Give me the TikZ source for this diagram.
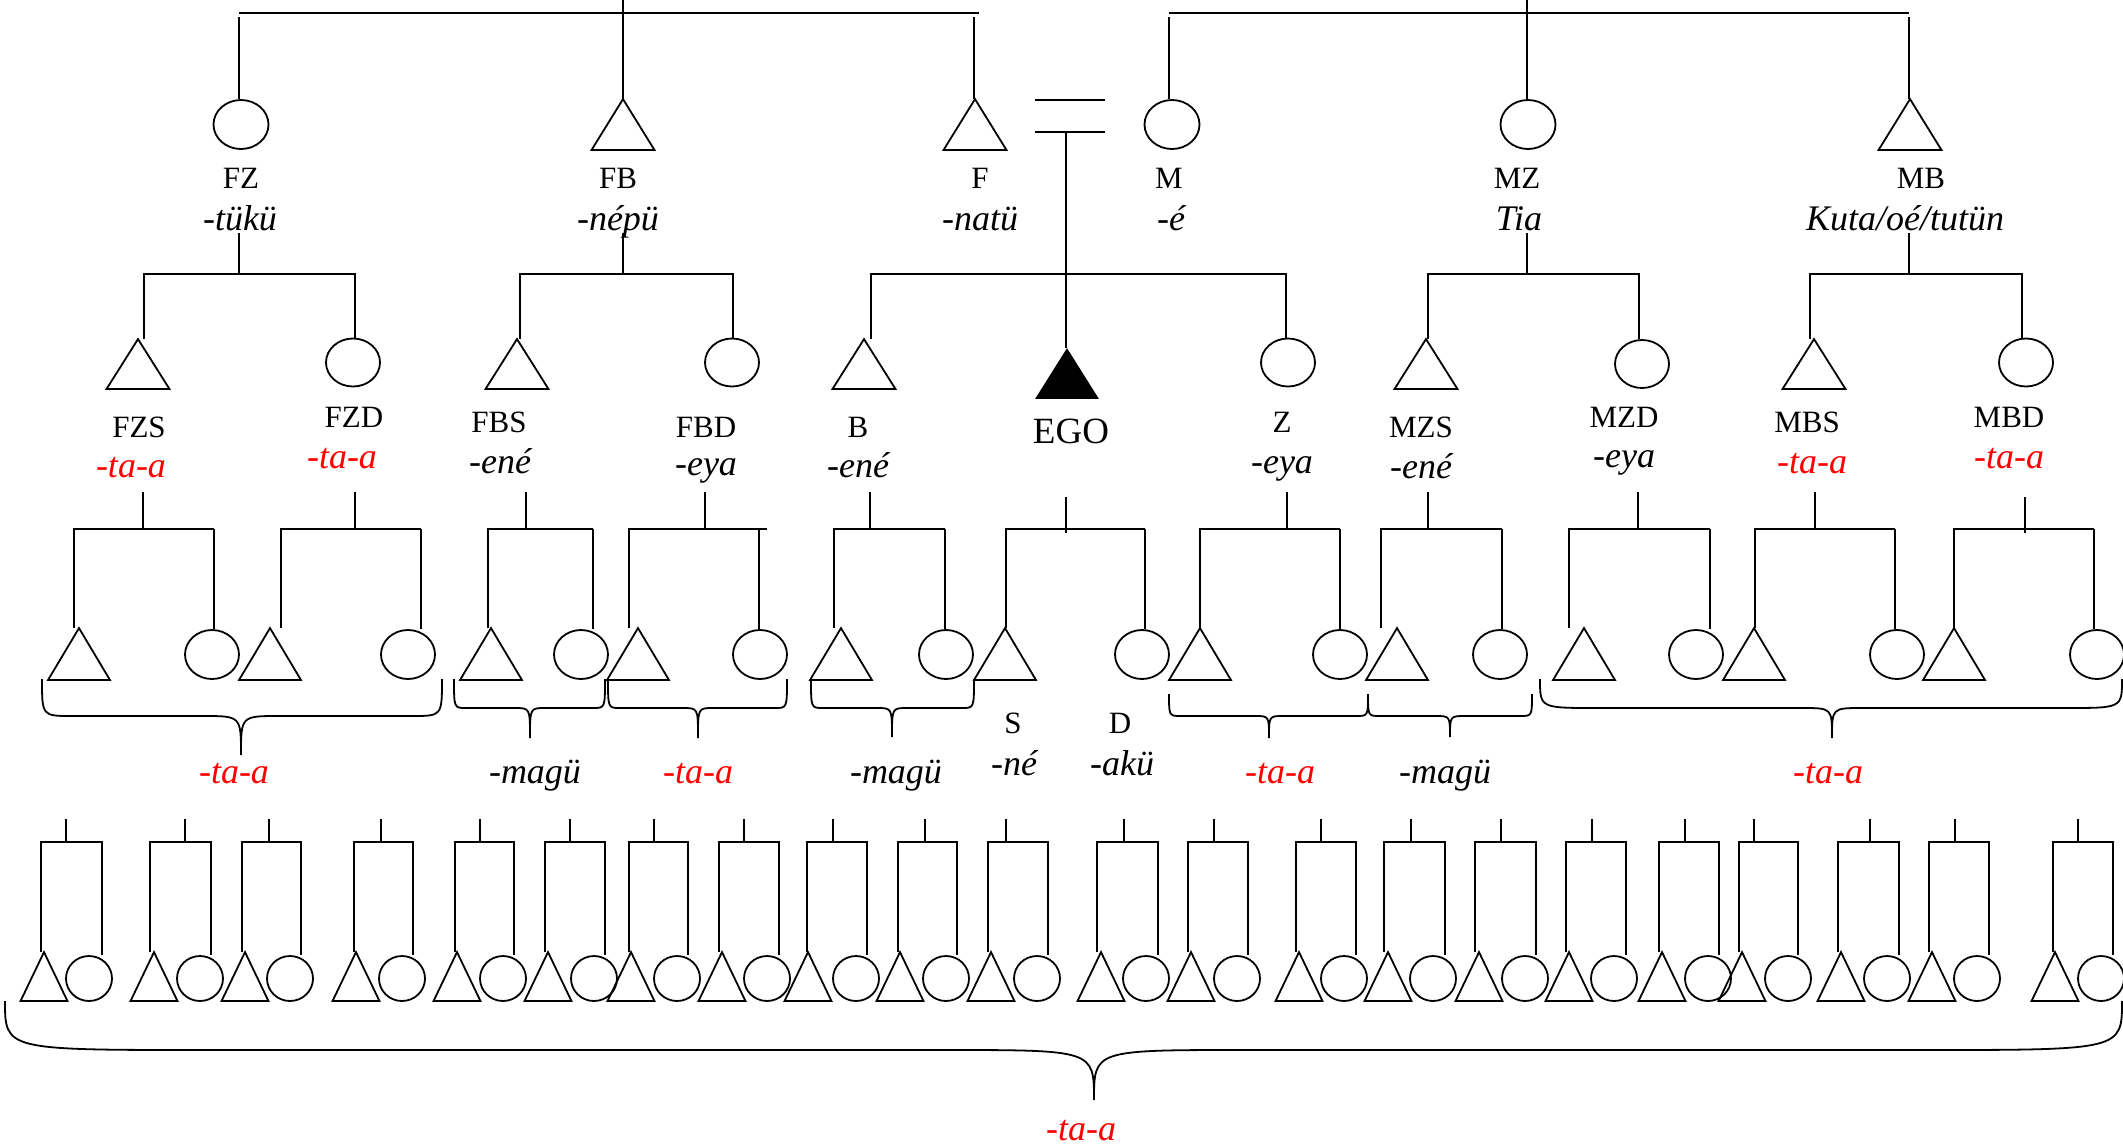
\documentclass[tikz,border=0pt]{standalone}
\usepackage{fontspec}
\setmainfont{Liberation Serif}
\usetikzlibrary{shapes.geometric}
\definecolor{kred}{RGB}{255,0,0}
\tikzset{
  fc1/.style={ellipse,draw,inner sep=0pt,minimum width=55pt,minimum height=49pt},
  mt1/.style={rectangle,inner sep=0pt,minimum width=61pt,minimum height=49pt},
  fc2/.style={fc1,minimum width=54pt,minimum height=48pt},
  mt2/.style={mt1,minimum height=48pt},
  fc3/.style={fc1,minimum width=54pt,minimum height=49pt},
  mt3/.style={mt1,minimum width=60pt,minimum height=50pt},
  fc4/.style={fc1,minimum width=46pt,minimum height=45pt},
  mt4/.style={mt1,minimum width=45pt,minimum height=47pt},
  kin/.style={anchor=base,inner sep=0pt,font=\fontsize{31}{31}\selectfont},
  term/.style={anchor=base,inner sep=0pt,font=\fontsize{36}{36}\selectfont\itshape},
  rterm/.style={term,text=kred},
}
\newcommand\kintri[1]{\draw (#1.south west) -- (#1.north) -- (#1.south east) -- cycle;}
\newcommand\kinbrace[8]{\draw (#1,#3) .. controls (#1,#4) .. ({#1+#7},#4) -- ({#5-#8},#4) .. controls (#5,#4) .. (#5,#6) .. controls (#5,#4) .. ({#5+#8},#4) -- ({#2-#7},#4) .. controls (#2,#4) .. (#2,#3);}
\begin{document}
\begin{tikzpicture}[x=1pt,y=-1pt,line width=1.8pt]
\useasboundingbox (0,0) rectangle (2123,1144);

% ---------- generation 1 ----------
\node[fc1] (fz) at (241,124.5) {};
\node[mt1] (fb) at (623,124.5) {};
\node[mt1] (f)  at (975,124.5) {};
\node[fc1] (m)  at (1172,124.5) {};
\node[fc1] (mz) at (1528,124.5) {};
\node[mt1] (mb) at (1910,124.5) {};
\kintri{fb}\kintri{f}\kintri{mb}

\coordinate (gpL) at (623,0);
\coordinate (gpR) at (1527,0);
\coordinate (lbA) at (239,13); \coordinate (lbB) at (979,13);
\coordinate (rbA) at (1169,13); \coordinate (rbB) at (1909,13);
\draw (lbA) -- (lbB);
\draw (rbA) -- (rbB);
\draw (gpL) -- (gpL |- fb.north);
\draw (gpR) -- (gpR |- mz.north);
\coordinate (fzleg) at (239,17); \draw (fzleg) -- (fzleg |- fz.north);
\coordinate (fleg) at (974,17);  \draw (fleg) -- (fleg |- f.north);
\coordinate (mleg) at (1169,17); \draw (mleg) -- (mleg |- m.north);
\coordinate (mbleg) at (1909,17); \draw (mbleg) -- (mbleg |- mb.north);

\node[kin] (fzL) at (241,188) {FZ};  \node[term] (fzT) at (240,230) {-tükü};
\node[kin] (fbL) at (618,188) {FB};  \node[term] (fbT) at (618,230) {-népü};
\node[kin] (fL)  at (980,188) {F};   \node[term] (fT)  at (980,230) {-natü};
\node[kin] (mL)  at (1169,188) {M};  \node[term] (mT)  at (1171,230) {-é};
\node[kin] (mzL) at (1517,188) {MZ}; \node[term] (mzT) at (1519,230) {Tia};
\node[kin] (mbL) at (1921,188) {MB}; \node[term] (mbT) at (1905,230) {Kuta/oé/tutün};

% marriage
\coordinate (ma1) at (1035,100); \coordinate (mb1) at (1105,100);
\coordinate (ma2) at (1035,132); \coordinate (mb2) at (1105,132);
\draw (ma1) -- (mb1);
\draw (ma2) -- (mb2);

% ---------- generation 2 ----------
\node[mt2] (fzs) at (138,364) {};
\node[fc2] (fzd) at (353,362.5) {};
\node[mt2] (fbs) at (517,364) {};
\node[fc2] (fbd) at (732,362.5) {};
\node[mt2] (b)   at (864,364) {};
\node[mt1,minimum width=62pt] (ego) at (1067,373.5) {};
\node[fc2] (z)   at (1288,362.5) {};
\node[mt2] (mzs) at (1426,364) {};
\node[fc2] (mzd) at (1642,364) {};
\node[mt2] (mbs) at (1814,364) {};
\node[fc2] (mbd) at (2026,362.5) {};
\kintri{fzs}\kintri{fbs}\kintri{b}\kintri{mzs}\kintri{mbs}
\fill (ego.south west) -- (ego.north) -- (ego.south east) -- cycle;

\coordinate (mc) at (1066,132);
\draw (mc) -- (mc |- ego.north);

\coordinate (k2a) at (239,233);  \coordinate (b2a) at (144,274);  \coordinate (b2b) at (355,274);
\coordinate (k2b) at (623,233);  \coordinate (b2c) at (520,274);  \coordinate (b2d) at (733,274);
\coordinate (b2e) at (871,274);  \coordinate (b2f) at (1286,274);
\coordinate (k2d) at (1527,233); \coordinate (b2g) at (1428,274); \coordinate (b2h) at (1639,274);
\coordinate (k2e) at (1909,233); \coordinate (b2i) at (1810,274); \coordinate (b2j) at (2022,274);
\draw (k2a) -- (k2a |- b2a);
\draw (k2b) -- (k2b |- b2c);
\draw (k2d) -- (k2d |- b2g);
\draw (k2e) -- (k2e |- b2i);
\draw (b2a |- fzs.north) -- (b2a) -- (b2b) -- (b2b |- fzd.north);
\draw (b2c |- fbs.north) -- (b2c) -- (b2d) -- (b2d |- fbd.north);
\draw (b2e |- b.north) -- (b2e) -- (b2f) -- (b2f |- z.north);
\draw (b2g |- mzs.north) -- (b2g) -- (b2h) -- (b2h |- mzd.north);
\draw (b2i |- mbs.north) -- (b2i) -- (b2j) -- (b2j |- mbd.north);

\node[kin] (fzsL) at (139,437) {FZS};  \node[rterm] (fzsT) at (131,477) {-ta-a};
\node[kin] (fzdL) at (354,427) {FZD};  \node[rterm] (fzdT) at (342,468) {-ta-a};
\node[kin] (fbsL) at (499,432) {FBS};  \node[term] (fbsT) at (500,473) {-ené};
\node[kin] (fbdL) at (706,437) {FBD};  \node[term] (fbdT) at (706,475) {-eya};
\node[kin] (bL)   at (858,437) {B};    \node[term] (bT)   at (858,477) {-ené};
\node[kin,font=\fontsize{37}{37}\selectfont] (egoL) at (1071,443) {EGO};
\node[kin] (zL)   at (1282,432) {Z};   \node[term] (zT)   at (1282,473) {-eya};
\node[kin] (mzsL) at (1421,437) {MZS}; \node[term] (mzsT) at (1421,478) {-ené};
\node[kin] (mzdL) at (1624,427) {MZD}; \node[term] (mzdT) at (1624,467) {-eya};
\node[kin] (mbsL) at (1807,432) {MBS}; \node[rterm] (mbsT) at (1812,473) {-ta-a};
\node[kin] (mbdL) at (2009,427) {MBD}; \node[rterm] (mbdT) at (2009,468) {-ta-a};

% ---------- generation 3 ----------
\foreach \tk/\kt/\kb/\bl/\br/\ta/\cx/\rl [count=\i] in {
  143/492/529/74/214/79/212/214,
  355/492/529/281/421/270/408/421,
  526/492/529/488/593/491/581/593,
  705/492/529/629/767/638/760/759,
  870/492/529/834/945/841/946/945,
  1066/497/533/1006/1145/1005/1142/1145,
  1287/492/529/1200/1340/1200/1340/1340,
  1428/492/529/1381/1502/1397/1500/1502,
  1638/492/529/1569/1710/1584/1696/1710,
  1815/492/529/1755/1895/1754/1897/1895,
  2025/497/533/1954/2094/1954/2097/2094}{
  \node[mt3] (gs\i) at (\ta,654) {};
  \node[fc3] (gd\i) at (\cx,654.5) {};
  \kintri{gs\i}
  \coordinate (gl\i) at (\bl,529);
  \coordinate (gr\i) at (\br,529);
  \coordinate (grl\i) at (\rl,529);
  \draw (gl\i |- gs\i.north) -- (gl\i) -- (gr\i);
  \draw (grl\i) -- (grl\i |- gd\i.north);
  \coordinate (gk\i) at (\tk,\kt);
  \coordinate (gkb\i) at (\tk,\kb);
  \draw (gk\i) -- (gkb\i);
}

\node[kin] (sL) at (1013,733) {S};  \node[term] (sT) at (1014,775) {-né};
\node[kin] (dL) at (1120,733) {D};  \node[term] (dT) at (1122,775) {-akü};

\kinbrace{42}{442}{679}{716}{241}{755}{30}{38}
\kinbrace{454}{605}{679}{708}{530}{738}{12}{15}
\kinbrace{608}{787}{679}{708}{698}{738}{12}{15}
\kinbrace{811}{974}{679}{708}{892}{737}{12}{15}
\kinbrace{1169}{1368}{694}{716}{1269}{738}{12}{14}
\kinbrace{1368}{1532}{694}{716}{1450}{737}{12}{15}
\kinbrace{1540}{2122}{679}{708}{1832}{738}{56}{30}

\node[rterm] (br1) at (234,783) {-ta-a};
\node[term]  (br2) at (535,783) {-magü};
\node[rterm] (br3) at (698,783) {-ta-a};
\node[term]  (br4) at (896,783) {-magü};
\node[rterm] (br5) at (1280,783) {-ta-a};
\node[term]  (br6) at (1445,783) {-magü};
\node[rterm] (br7) at (1828,783) {-ta-a};

% ---------- generation 4 ----------
\foreach \tk/\bl/\br/\ta/\cx [count=\i] in {
  66/41/102/44/89, 185/150/211/154/200, 269/242/301/245/290,
  381/354/413/356/402, 480/455/514/457/503, 570/545/605/548/594,
  654/629/688/631/677, 744/719/779/722/767, 833/807/867/808/856,
  925/898/957/900/946, 1006/988/1048/991/1037, 1124/1097/1158/1101/1146,
  1214/1188/1248/1191/1237, 1321/1296/1356/1299/1344, 1411/1384/1445/1388/1433,
  1501/1475/1536/1479/1525, 1592/1566/1626/1569/1614, 1685/1659/1719/1662/1708,
  1754/1739/1798/1742/1788, 1870/1838/1899/1841/1887, 1955/1929/1989/1932/1977,
  2078/2053/2113/2055/2101}{
  \node[mt4] (hs\i) at (\ta,976.5) {};
  \node[fc4] (hd\i) at (\cx,978.5) {};
  \kintri{hs\i}
  \coordinate (hl\i) at (\bl,842);
  \coordinate (hr\i) at (\br,842);
  \draw (hl\i |- hs\i.north) -- (hl\i) -- (hr\i) -- (hr\i |- hd\i.north);
  \coordinate (hk\i) at (\tk,819);
  \draw (hk\i) -- (hk\i |- hl\i);
}

\kinbrace{5}{2122}{1001}{1050}{1094}{1100}{200}{150}
\node[rterm] (bottomT) at (1081,1140) {-ta-a};
\end{tikzpicture}
\end{document}
